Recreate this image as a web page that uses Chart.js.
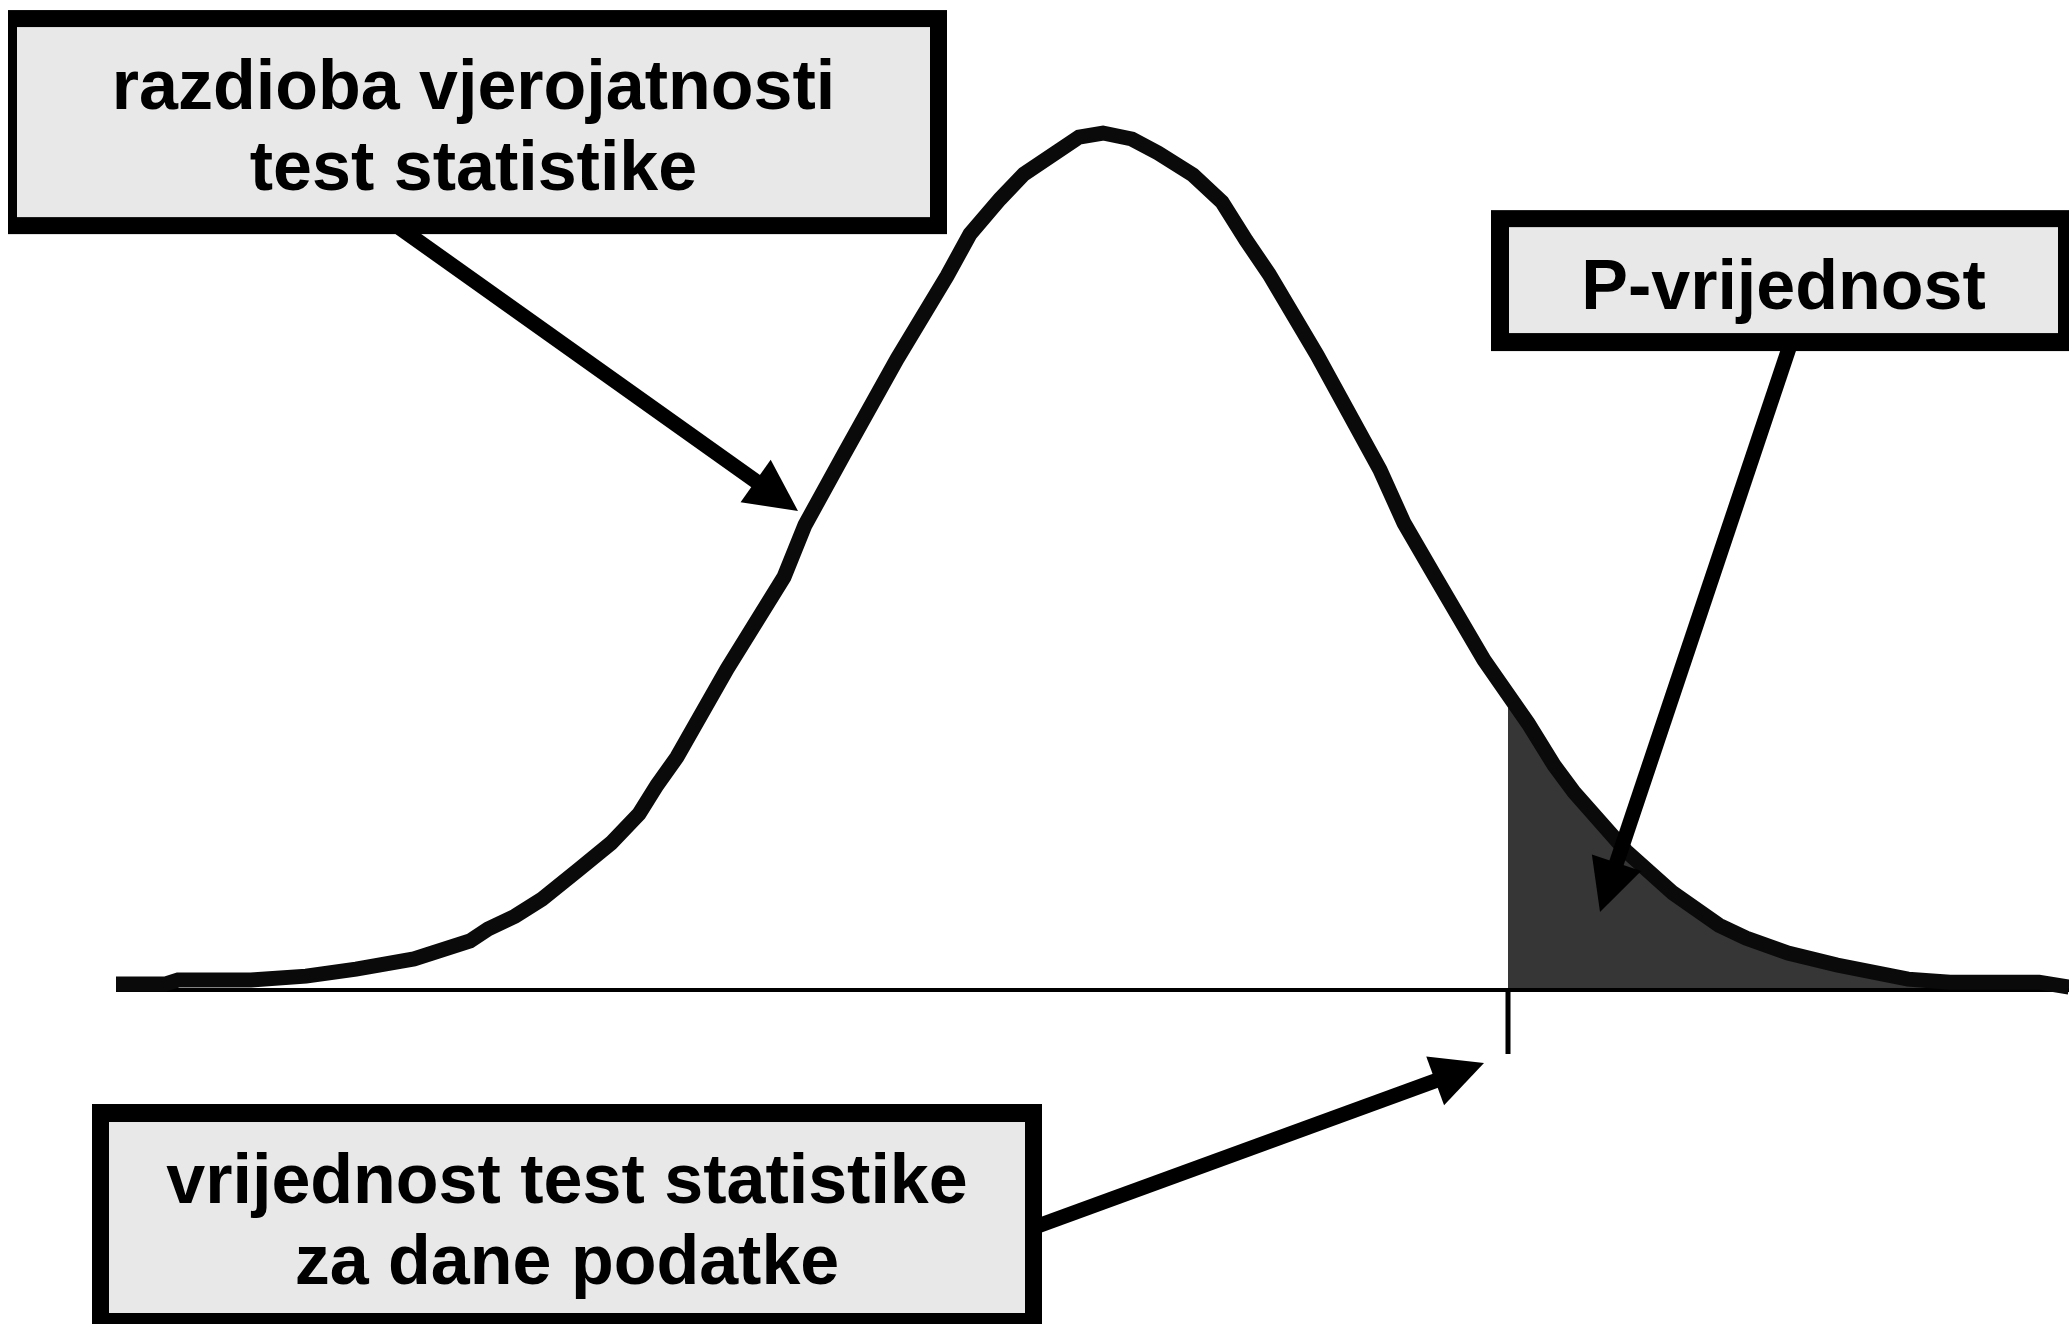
<!DOCTYPE html>
<html lang="hr">
<head>
  <meta charset="UTF-8">
  <title>P-vrijednost</title>
  <script src="https://cdn.jsdelivr.net/npm/chart.js"></script>
  <style>
    html, body { margin: 0; padding: 0; background: #fff; }
    #wrap { position: relative; width: 2069px; height: 1324px; }
  </style>
</head>
<body>
  <div id="wrap"><canvas id="chartCanvas"></canvas></div>

  <script>
    // razdioba test statistike (ocitano sa slike)
    const curveX = [-4.935, -4.69, -4.625, -4.26, -3.985, -3.735, -3.445, -3.165, -3.075, -2.94,
      -2.805, -2.625, -2.46, -2.32, -2.23, -2.13, -1.88, -1.595, -1.49, -1.295,
      -1.03, -0.78, -0.665, -0.515, -0.395, -0.12, 0, 0.145, 0.275, 0.45,
      0.595, 0.715, 0.83, 1.07, 1.385, 1.505, 1.65, 1.905, 2.125, 2.255,
      2.355, 2.615, 2.85, 3.08, 3.215, 3.425, 3.67, 4.025, 4.235, 4.68, 4.83];
    const curveY = [0.0028, 0.0028, 0.0047, 0.0047, 0.0065, 0.0098, 0.0145, 0.0229, 0.0285, 0.0345,
      0.0425, 0.056, 0.0686, 0.0822, 0.0957, 0.1088, 0.1499, 0.1928, 0.2171, 0.2502,
      0.2946, 0.3333, 0.3529, 0.3693, 0.381, 0.3982, 0.4001, 0.3973, 0.3908, 0.3805,
      0.3679, 0.3501, 0.3343, 0.2965, 0.2428, 0.218, 0.1947, 0.1541, 0.1246, 0.105,
      0.0924, 0.0649, 0.0453, 0.0303, 0.0243, 0.0173, 0.0117, 0.0051, 0.0037, 0.0037, 0.0014];

    // vrijednost test statistike i osjencani rep (P-vrijednost)
    const testStat = 2.025;
    const tailX = [2.025, 2.125, 2.255, 2.355, 2.615, 2.85, 3.08, 3.215, 3.425, 3.67, 4.025, 4.235, 4.68, 4.83];
    const tailY = [0.132, 0.1246, 0.105, 0.0924, 0.0649, 0.0453, 0.0303, 0.0243, 0.0173, 0.0117, 0.0051, 0.0037, 0.0037, 0.0014];

    // os
    const axisX = [-4.935, 4.83];
    const tickY = [0, -0.0299];

    // tekstovi
    const boxTexts = [
      ['razdioba vjerojatnosti', 'test statistike'],
      ['P-vrijednost'],
      ['vrijednost test statistike', 'za dane podatke']
    ];

    // polozaj okvira i strelica (u jedinicama osi)
    const boxes = [
      { x1: -5.475, x2: -0.78, yTop: 0.4575, yBot: 0.3529, inset: [9, 17, 17, 17] },
      { x1: 1.94, x2: 4.83, yTop: 0.3641, yBot: 0.2983, inset: [18, 17, 11, 18] },
      { x1: -5.055, x2: -0.305, yTop: -0.0532, yBot: -0.1587, inset: [17, 18, 17, 17] }
    ];
    const arrows = [
      { from: [-3.515, 0.3557], to: [-1.525, 0.2236] },
      { from: [3.435, 0.3011], to: [2.485, 0.0364] },
      { from: [-0.34, -0.1106], to: [1.905, -0.0341] }
    ];

    const pts = (xs, ys) => xs.map((x, i) => ({ x, y: ys[i] }));

    const annotations = {
      id: 'annotations',
      afterDatasetsDraw(chart) {
        const { ctx } = chart;
        const sx = chart.scales.x, sy = chart.scales.y;
        ctx.save();

        // strelice
        arrows.forEach(a => {
          const x0 = sx.getPixelForValue(a.from[0]), y0 = sy.getPixelForValue(a.from[1]);
          const x1 = sx.getPixelForValue(a.to[0]), y1 = sy.getPixelForValue(a.to[1]);
          const len = Math.hypot(x1 - x0, y1 - y0);
          const ux = (x1 - x0) / len, uy = (y1 - y0) / len;
          const head = 52, half = 26;
          const bx = x1 - ux * head, by = y1 - uy * head;
          ctx.strokeStyle = '#000';
          ctx.lineWidth = 15;
          ctx.lineCap = 'butt';
          ctx.beginPath();
          ctx.moveTo(x0, y0);
          ctx.lineTo(bx + ux * 4, by + uy * 4);
          ctx.stroke();
          ctx.fillStyle = '#000';
          ctx.beginPath();
          ctx.moveTo(x1, y1);
          ctx.lineTo(bx - uy * half, by + ux * half);
          ctx.lineTo(bx + uy * half, by - ux * half);
          ctx.closePath();
          ctx.fill();
        });

        // okviri s tekstom
        ctx.font = 'bold 70px "Liberation Sans", Arial, sans-serif';
        ctx.textAlign = 'center';
        ctx.textBaseline = 'alphabetic';
        boxes.forEach((b, i) => {
          const left = sx.getPixelForValue(b.x1), right = sx.getPixelForValue(b.x2);
          const top = sy.getPixelForValue(b.yTop), bottom = sy.getPixelForValue(b.yBot);
          const [il, it, ir, ib] = b.inset;
          ctx.fillStyle = '#000';
          ctx.fillRect(left, top, right - left, bottom - top);
          ctx.fillStyle = '#e8e8e8';
          ctx.fillRect(left + il, top + it, right - left - il - ir, bottom - top - it - ib);
          const cx = (left + il + right - ir) / 2;
          ctx.fillStyle = '#000';
          boxTexts[i].forEach((line, j) => {
            ctx.fillText(line, cx, top + 99 + j * 81);
          });
        });
        ctx.restore();
      }
    };

    new Chart(document.getElementById('chartCanvas'), {
      type: 'line',
      data: {
        datasets: [
          {
            label: 'razdioba',
            data: pts(curveX, curveY),
            borderColor: '#0a0a0a',
            borderWidth: 15,
            pointRadius: 0,
            tension: 0,
            fill: false
          },
          {
            label: 'os',
            data: pts(axisX, [0, 0]),
            borderColor: '#000',
            borderWidth: 4,
            pointRadius: 0,
            fill: false
          },
          {
            label: 'crtica',
            data: pts([testStat, testStat], tickY),
            borderColor: '#000',
            borderWidth: 5,
            pointRadius: 0,
            fill: false
          },
          {
            label: 'P-vrijednost',
            data: pts(tailX, tailY),
            borderWidth: 0,
            borderColor: 'rgba(0,0,0,0)',
            backgroundColor: '#363636',
            pointRadius: 0,
            tension: 0,
            fill: 'origin'
          }
        ]
      },
      options: {
        responsive: true,
        maintainAspectRatio: false,
        animation: false,
        events: [],
        layout: { padding: 0 },
        plugins: { legend: { display: false }, tooltip: { enabled: false } },
        scales: {
          x: { type: 'linear', min: -5.515, max: 4.83, display: false },
          y: { type: 'linear', min: -0.1559, max: 0.4622, display: false }
        }
      },
      plugins: [annotations]
    });
  </script>
</body>
</html>
